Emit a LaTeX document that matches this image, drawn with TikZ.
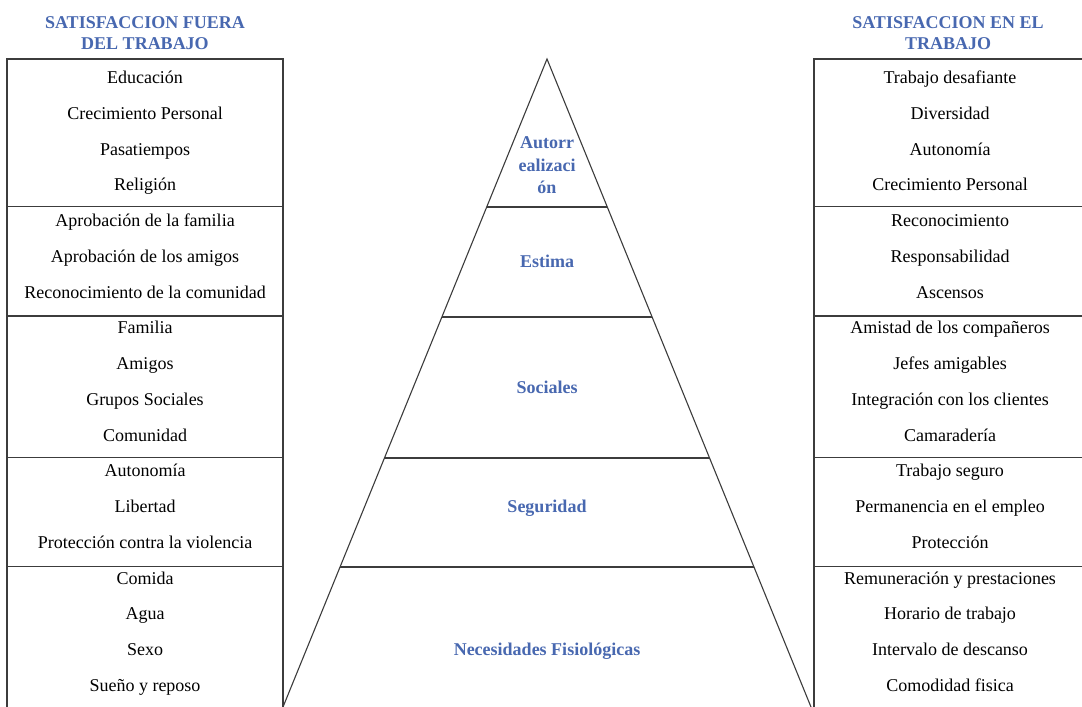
\documentclass[tikz,border=0pt]{standalone}
\usepackage{fontspec}
\setmainfont{LiberationSerif}[Extension=.ttf, UprightFont=*-Regular, BoldFont=*-Bold, ItalicFont=*-Italic, BoldItalicFont=*-BoldItalic]
\usetikzlibrary{calc}
\definecolor{hdrblue}{RGB}{72,104,176}
\definecolor{linegray}{RGB}{60,60,60}
\begin{document}
\begin{tikzpicture}[x=1pt,y=-1pt,
  item/.style={anchor=base, inner sep=0pt, font=\fontsize{18}{21}\selectfont, text=black},
  hdr/.style={anchor=base, inner sep=0pt, font=\fontsize{18}{21}\selectfont\bfseries, text=hdrblue},
  lvl/.style={inner sep=0pt, font=\fontsize{18}{22.5}\selectfont\bfseries, text=hdrblue, align=center},
  frame/.style={draw=linegray, line width=1.3pt},
  pyr/.style={draw=linegray, line width=1.1pt, line join=miter}]
\useasboundingbox (0,0) rectangle (1082,707);
\fill[white] (0,0) rectangle (1082,707);

% headers
\node[hdr] (hl1) at (145,28) {SATISFACCION FUERA};
\node[hdr] (hl2) at (145,49) {DEL TRABAJO};
\node[hdr] (hr1) at (948,28) {SATISFACCION EN EL};
\node[hdr] (hr2) at (948,49) {TRABAJO};

% left box
\draw[frame] (7,712) -- (7,59) -- (283,59) -- (283,712);
\foreach \yy [count=\i] in {206.5,316,457.5,566.5}
  \draw[frame] (7,\yy) coordinate (ld\i a) -- (283,\yy) coordinate (ld\i b);
% right box
\draw[frame] (814,712) -- (814,59) -- (1090,59);
\foreach \yy [count=\i] in {206.5,316,457.5,566.5}
  \draw[frame] (814,\yy) coordinate (rd\i a) -- (1090,\yy) coordinate (rd\i b);

% left items
\foreach \t [count=\k from 0] in {Educación, Crecimiento Personal, Pasatiempos, Religión,
  Aprobación de la familia, Aprobación de los amigos, Reconocimiento de la comunidad,
  Familia, Amigos, Grupos Sociales, Comunidad,
  Autonomía, Libertad, Protección contra la violencia,
  Comida, Agua, Sexo, Sueño y reposo}
  \node[item] (L\k) at (145,{83.5+35.75*\k}) {\t};

% right items
\foreach \t [count=\k from 0] in {Trabajo desafiante, Diversidad, Autonomía, Crecimiento Personal,
  Reconocimiento, Responsabilidad, Ascensos,
  Amistad de los compañeros, Jefes amigables, Integración con los clientes, Camaradería,
  Trabajo seguro, Permanencia en el empleo, Protección,
  Remuneración y prestaciones, Horario de trabajo, Intervalo de descanso, Comodidad fisica}
  \node[item] (R\k) at (950,{83.5+35.75*\k}) {\t};

% pyramid
\coordinate (apex) at (547,59);
\coordinate (bl) at (283,707);
\coordinate (br) at (811,707);
\draw[pyr] (bl) -- (apex) -- (br);
\foreach \t in {0.2284,0.3981,0.6157,0.7840}
  \draw[pyr] ($(apex)!\t!(bl)$) -- ($(apex)!\t!(br)$);

% level labels
\node[lvl] (autor) at (547,165.5) {Autorr\\ealizaci\\ón};
\node[lvl, anchor=base] (estima) at (547,267) {Estima};
\node[lvl, anchor=base] (soc) at (547,393) {Sociales};
\node[lvl, anchor=base] (seg) at (547,512) {Seguridad};
\node[lvl, anchor=base] (fis) at (547,655.5) {Necesidades Fisiológicas};
\end{tikzpicture}
\end{document}
